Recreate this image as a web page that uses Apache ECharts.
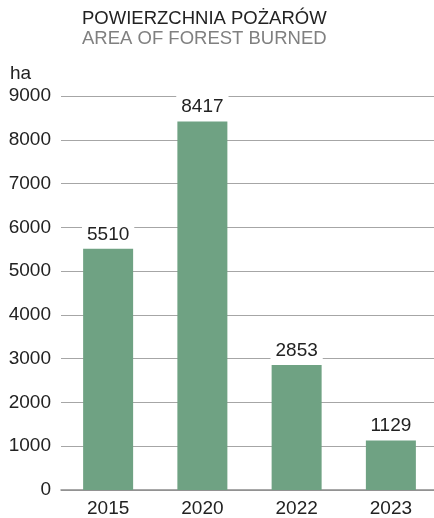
<!DOCTYPE html>
<html>
<head>
<meta charset="utf-8">
<script src="https://cdn.jsdelivr.net/npm/echarts@6/dist/echarts.min.js"></script>
<style>
html,body{margin:0;padding:0;background:#fff;overflow:hidden;width:434px;height:518px;}
#chart{width:442px;height:518px;}
</style>
</head>
<body>
<div id="chart"></div>
<script>
const categories = ['2015', '2020', '2022', '2023'];
const values = [5510, 8417, 2853, 1129];
const titleText = 'POWIERZCHNIA POŻARÓW';
const subtitleText = 'AREA OF FOREST BURNED';
const unitText = 'ha';

const chart = echarts.init(document.getElementById('chart'), null, {renderer: 'canvas'});
const font = 'Liberation Sans, Arial, sans-serif';
chart.setOption({
  animation: false,
  backgroundColor: '#fff',
  title: {
    text: titleText,
    subtext: subtitleText,
    left: 82,
    top: 9,
    padding: 0,
    itemGap: 1,
    textStyle: {fontFamily: font, fontSize: 18.5, fontWeight: 'normal', color: '#222'},
    subtextStyle: {fontFamily: font, fontSize: 18.5, color: '#808080'}
  },
  graphic: [{
    type: 'text',
    left: 10,
    top: 64,
    style: {text: unitText, font: '19px ' + font, fill: '#222'}
  }],
  grid: {left: 61, right: 4, top: 96, bottom: 25, containLabel: false},
  xAxis: {
    type: 'category',
    data: categories,
    axisTick: {show: false},
    axisLine: {lineStyle: {color: '#8c8c8c', width: 1.5}},
    axisLabel: {fontFamily: font, fontSize: 19, color: '#222', margin: 9}
  },
  yAxis: {
    type: 'value',
    min: 0,
    max: 9000,
    interval: 1000,
    axisLine: {show: false},
    axisTick: {show: false},
    axisLabel: {fontFamily: font, fontSize: 19, color: '#222', margin: 10, formatter: v => String(v)},
    splitLine: {lineStyle: {color: '#a6a6a6', width: 1}}
  },
  series: [{
    type: 'bar',
    data: values,
    barWidth: 50,
    itemStyle: {color: '#6fa283'},
    label: {
      show: true,
      position: 'top',
      distance: 3,
      fontFamily: font,
      fontSize: 19,
      color: '#222',
      backgroundColor: '#fff',
      padding: [2, 5]
    }
  }]
});
</script>
</body>
</html>
